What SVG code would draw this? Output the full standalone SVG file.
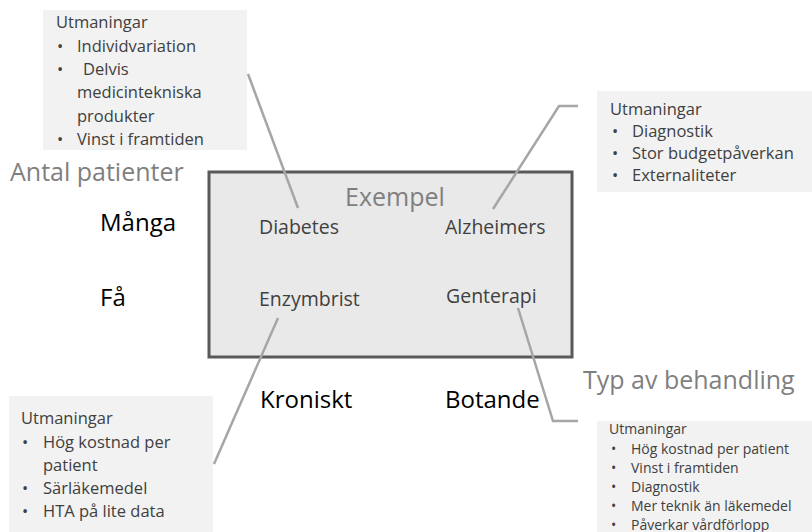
<svg xmlns="http://www.w3.org/2000/svg" width="812" height="532" viewBox="0 0 812 532">
<style>
text{font-family:"Open Sans","Noto Sans","DejaVu Sans",sans-serif}
.note{fill:#f2f2f2}
.nt{font-size:16.5px;fill:#404040}
.nts{font-size:14px;fill:#404040}
.ax{font-size:25px;fill:#7f7f7f}
.cat{font-size:24px;fill:#000}
.ex{font-size:19.5px;fill:#404040}
.conn{fill:none;stroke:#a6a6a6;stroke-width:2.5}
</style>
<rect width="812" height="532" fill="#fff"/>

<g id="axis-labels">
<text class="ax" x="10" y="181">Antal patienter</text>
<text class="cat" x="100" y="231">Många</text>
<text class="cat" x="100" y="306">Få</text>
<text class="cat" x="260" y="408">Kroniskt</text>
<text class="cat" x="445" y="408">Botande</text>
<text class="ax" x="583" y="389">Typ av behandling</text>
</g>

<g id="matrix">
<rect x="209" y="172" width="363" height="185" fill="#e9e9e9" stroke="#595959" stroke-width="3"/>
<text class="ax" x="395" y="206" text-anchor="middle">Exempel</text>
</g>
<g id="diabetes"><text class="ex" x="259" y="234">Diabetes</text></g>
<g id="alzheimers"><text class="ex" x="445" y="234">Alzheimers</text></g>
<g id="enzymbrist"><text class="ex" x="259" y="306">Enzymbrist</text></g>
<g id="genterapi"><text class="ex" x="446" y="303">Genterapi</text></g>

<g id="note-diabetes">
<rect class="note" x="43" y="10" width="204" height="140"/>
<text class="nt" x="56" y="28">Utmaningar</text>
<text class="nt"><tspan x="57" y="52">•</tspan><tspan x="57" y="75">•</tspan><tspan x="57" y="145">•</tspan></text>
<text class="nt" x="77" y="52">Individvariation</text>
<text class="nt" x="83" y="75">Delvis</text>
<text class="nt" x="77" y="98">medicintekniska</text>
<text class="nt" x="77" y="122">produkter</text>
<text class="nt" x="77" y="145">Vinst i framtiden</text>
</g>

<g id="note-alzheimers">
<rect class="note" x="597" y="91" width="215" height="101"/>
<text class="nt" x="610" y="115">Utmaningar</text>
<text class="nt"><tspan x="612" y="137">•</tspan><tspan x="612" y="159">•</tspan><tspan x="612" y="181">•</tspan></text>
<text class="nt" x="632" y="137">Diagnostik</text>
<text class="nt" x="632" y="159">Stor budgetpåverkan</text>
<text class="nt" x="632" y="181">Externaliteter</text>
</g>

<g id="note-enzymbrist">
<rect class="note" x="9" y="396" width="204" height="136"/>
<text class="nt" x="21" y="424">Utmaningar</text>
<text class="nt"><tspan x="22" y="448">•</tspan><tspan x="22" y="494">•</tspan><tspan x="22" y="517">•</tspan></text>
<text class="nt" x="43" y="448">Hög kostnad per</text>
<text class="nt" x="43" y="471">patient</text>
<text class="nt" x="43" y="494">Särläkemedel</text>
<text class="nt" x="43" y="517">HTA på lite data</text>
</g>

<g id="note-genterapi">
<rect class="note" x="597" y="421" width="215" height="111"/>
<text class="nts" x="609" y="434">Utmaningar</text>
<text class="nts"><tspan x="611" y="454">•</tspan><tspan x="611" y="473">•</tspan><tspan x="611" y="492">•</tspan><tspan x="611" y="511">•</tspan><tspan x="611" y="530">•</tspan></text>
<text class="nts" x="631" y="454">Hög kostnad per patient</text>
<text class="nts" x="631" y="473">Vinst i framtiden</text>
<text class="nts" x="631" y="492">Diagnostik</text>
<text class="nts" x="631" y="511">Mer teknik än läkemedel</text>
<text class="nts" x="631" y="530">Påverkar vårdförlopp</text>
</g>

<g id="connectors">
<polyline class="conn" points="248,74 298,208"/>
<polyline class="conn" points="493,209 559,106 578,106"/>
<polyline class="conn" points="278,318 214,464"/>
<polyline class="conn" points="518,308 553,421 578,421"/>
</g>
</svg>
